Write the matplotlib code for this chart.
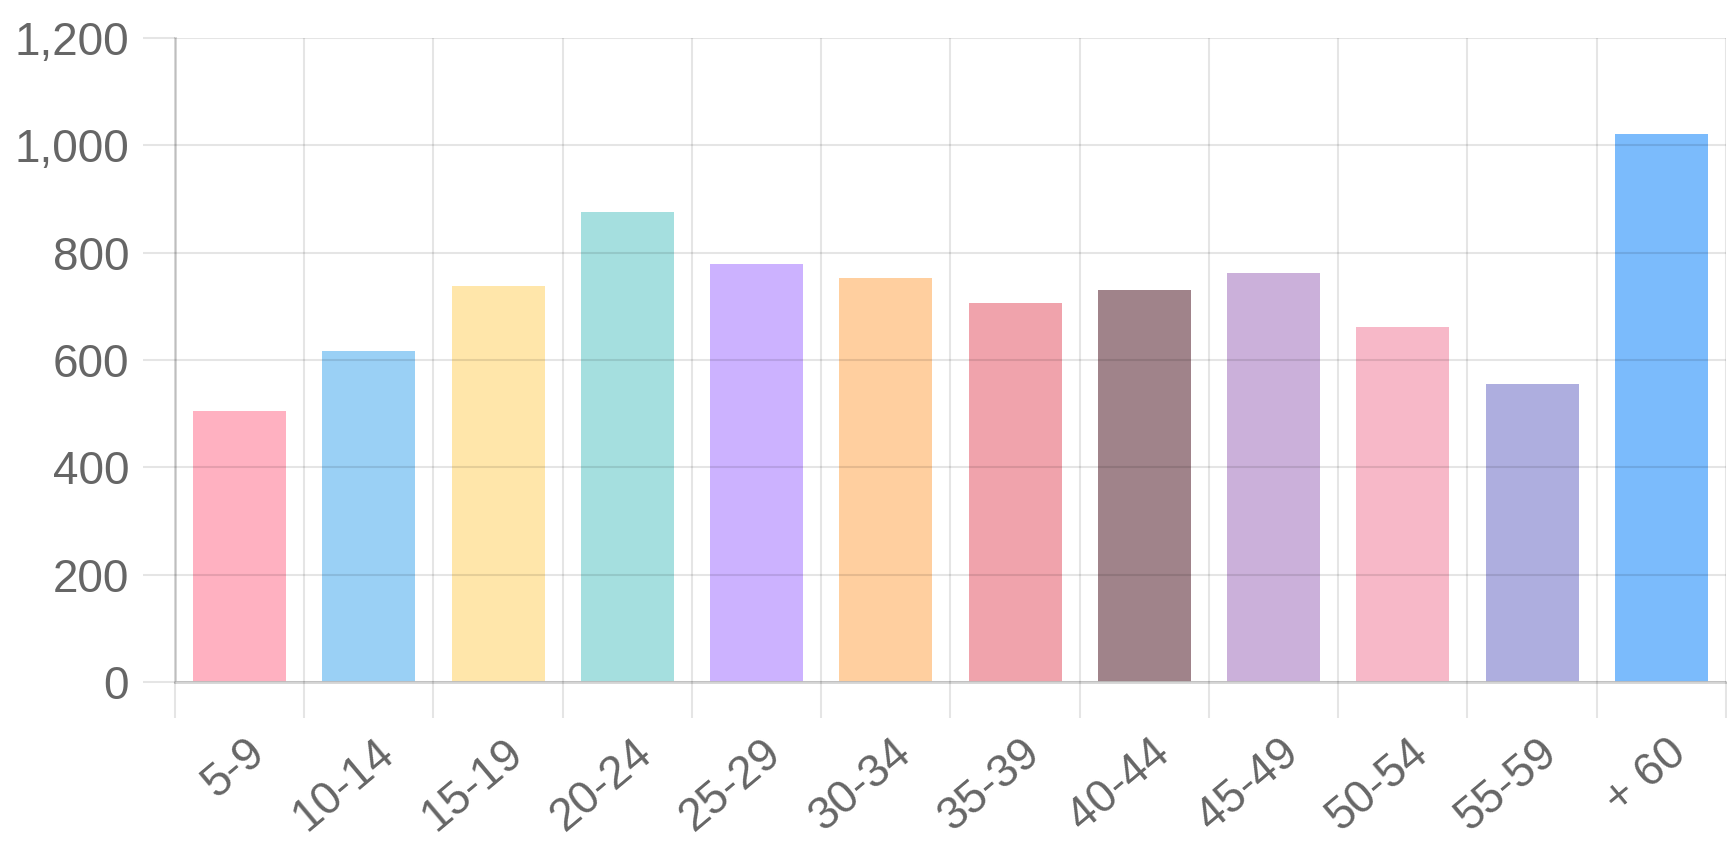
import matplotlib.pyplot as plt
import numpy as np

plt.rcParams["font.family"] = ["Liberation Sans", "DejaVu Sans"]

age_groups = ["5-9", "10-14", "15-19", "20-24", "25-29", "30-34",
              "35-39", "40-44", "45-49", "50-54", "55-59", "+ 60"]
counts = [505, 616, 738, 875, 779, 752, 707, 731, 762, 662, 555, 1021]
bar_colors = ["#FFB1C1", "#9AD0F5", "#FFE6AA", "#A5DFDF", "#CCB2FF", "#FFCF9F",
              "#F0A3AC", "#A0838A", "#CBB0DA", "#F7B8C8", "#AEAEDF", "#7BBBFC"]
y_ticks = [0, 200, 400, 600, 800, 1000, 1200]


def main():
    """draws the age group bar chart"""
    fig = plt.figure(figsize=(17.27, 8.42), dpi=100)
    ax = fig.add_axes([0.1013, 0.19, 0.8981, 0.765])
    x = np.arange(len(age_groups))
    ax.bar(x, counts, width=0.72, color=bar_colors, zorder=1)

    ax.set_xlim(-0.5, len(age_groups) - 0.5)
    ax.set_ylim(0, 1200)
    grid_col = (0, 0, 0, 0.1)

    # grid lines sit between categories, labels on the centres
    ax.set_xticks(np.arange(len(age_groups) + 1) - 0.5)
    ax.set_xticklabels([])
    ax.set_xticks(x + 0.04, minor=True)
    ax.set_xticklabels(age_groups, minor=True, rotation=40, ha="right",
                       rotation_mode="anchor", fontsize=33, color="#666666")
    ax.tick_params(axis="x", which="major", length=26, width=1.5, color=grid_col)
    ax.tick_params(axis="x", which="minor", length=0, pad=35)

    ax.set_yticks(y_ticks)
    ax.set_yticklabels([f"{v:,}" for v in y_ticks], fontsize=33, color="#666666")
    ax.tick_params(axis="y", length=23, width=1.5, color=grid_col, pad=10)

    ax.grid(True, which="major", color="#000000", alpha=0.1,
            linewidth=1.5, zorder=2)
    ax.set_axisbelow(False)
    for side in ["top", "right"]:
        ax.spines[side].set_visible(False)
    for side in ["left", "bottom"]:
        ax.spines[side].set_color("#d4d4d4")
        ax.spines[side].set_linewidth(2)

    fig.savefig("out.png", dpi=100)


if __name__ == "__main__":
    main()
